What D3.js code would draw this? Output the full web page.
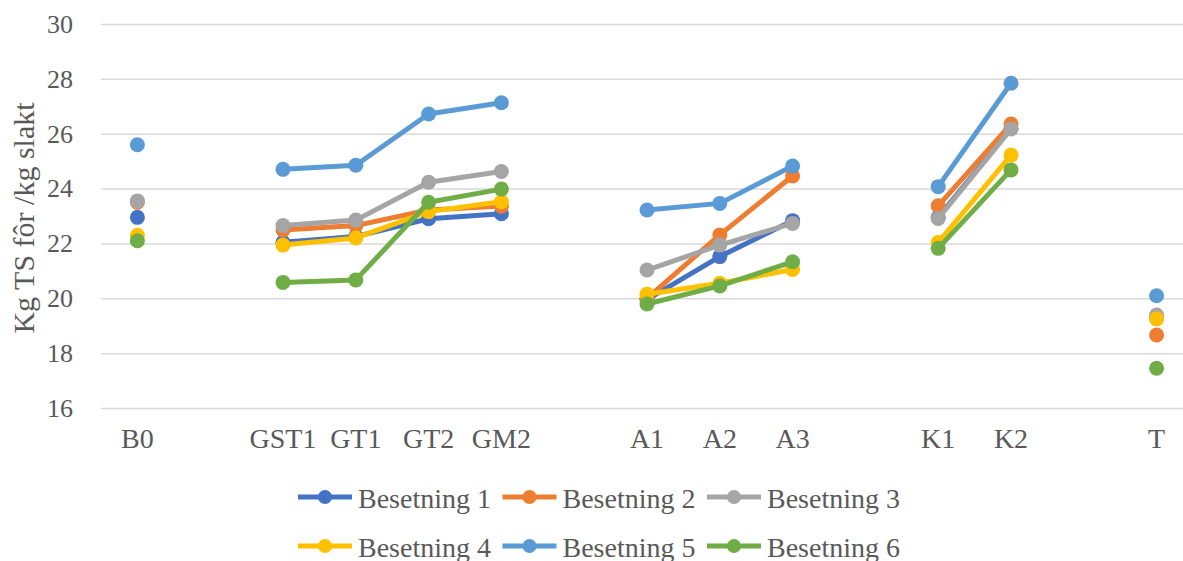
<!DOCTYPE html>
<html>
<head>
<meta charset="utf-8">
<script src="https://cdn.jsdelivr.net/npm/d3@7/dist/d3.min.js"></script>
<style>
  html, body { margin: 0; padding: 0; background: #fff; }
  svg { display: block; font-family: "Liberation Serif", "Times New Roman", serif; }
</style>
</head>
<body>
<svg id="chart" width="1183" height="561"></svg>
<script>
// Category slots; empty strings are spacer slots between groups
const categories = ["B0", "", "GST1", "GT1", "GT2", "GM2", "", "A1", "A2", "A3", "", "K1", "K2", "", "T"];

const seriesNames = ["Besetning 1", "Besetning 2", "Besetning 3", "Besetning 4", "Besetning 5", "Besetning 6"];

const besetning1 = [22.95, null, 22.04, 22.25, 22.90, 23.08, null, 19.95, 21.52, 22.83, null, 22.95, 26.20, null, 19.30];
const besetning2 = [23.50, null, 22.49, 22.65, 23.22, 23.36, null, 20.00, 22.31, 24.46, null, 23.37, 26.35, null, 18.66];
const besetning3 = [23.55, null, 22.65, 22.85, 24.23, 24.62, null, 21.03, 21.94, 22.73, null, 22.91, 26.17, null, 19.39];
const besetning4 = [22.30, null, 21.94, 22.20, 23.16, 23.52, null, 20.15, 20.55, 21.05, null, 22.03, 25.22, null, 19.25];
const besetning5 = [25.60, null, 24.70, 24.85, 26.72, 27.13, null, 23.22, 23.46, 24.82, null, 24.07, 27.84, null, 20.09];
const besetning6 = [22.10, null, 20.58, 20.67, 23.50, 23.98, null, 19.79, 20.45, 21.33, null, 21.82, 24.68, null, 17.45];

const seriesValues = [besetning1, besetning2, besetning3, besetning4, besetning5, besetning6];
const colors = ["#4472C4", "#ED7D31", "#A5A5A5", "#FFC000", "#5B9BD5", "#70AD47"];

const yTicks = [16, 18, 20, 22, 24, 26, 28, 30];
const yTitle = "Kg TS fôr /kg slakt";

const svg = d3.select("#chart");
const plot = { left: 101, right: 1193, top: 24, bottom: 408 };

const x = d3.scaleBand()
  .domain(d3.range(categories.length))
  .range([plot.left, plot.right]);
const cx = i => x(i) + x.bandwidth() / 2;

const y = d3.scaleLinear().domain([16, 30]).range([plot.bottom, plot.top]);

const textColor = "#595959";

// Horizontal gridlines
const yAxis = d3.axisLeft(y)
  .tickValues(yTicks)
  .tickSize(-(plot.right - plot.left))
  .tickPadding(28)
  .tickFormat(d3.format("d"));

const gy = svg.append("g")
  .attr("transform", `translate(${plot.left},0)`)
  .call(yAxis);
gy.select(".domain").remove();
gy.selectAll(".tick line").attr("stroke", "#d9d9d9").attr("stroke-width", 1.5);
gy.selectAll(".tick text")
  .attr("fill", textColor)
  .attr("font-size", 26)
  .attr("font-family", "Liberation Serif, serif");

// Category axis labels
const xAxis = d3.axisBottom(x)
  .tickSize(0)
  .tickPadding(20)
  .tickFormat(i => categories[i]);
const gx = svg.append("g")
  .attr("transform", `translate(0,${plot.bottom})`)
  .call(xAxis);
gx.select(".domain").remove();
gx.selectAll(".tick text")
  .attr("fill", textColor)
  .attr("font-size", 28)
  .attr("font-family", "Liberation Serif, serif");

// Y axis title
svg.append("text")
  .attr("transform", `translate(34,${(plot.top + plot.bottom) / 2 + 2}) rotate(-90)`)
  .attr("text-anchor", "middle")
  .attr("fill", textColor)
  .attr("font-size", 30)
  .text(yTitle);

// Series lines and markers
const line = d3.line()
  .defined(d => d.v != null)
  .x(d => cx(d.i))
  .y(d => y(d.v));

seriesValues.forEach((vals, s) => {
  const pts = vals.map((v, i) => ({ i, v }));
  const g = svg.append("g");
  g.append("path")
    .datum(pts)
    .attr("fill", "none")
    .attr("stroke", colors[s])
    .attr("stroke-width", 5)
    .attr("stroke-linejoin", "round")
    .attr("d", line);
  g.selectAll("circle")
    .data(pts.filter(d => d.v != null))
    .join("circle")
    .attr("cx", d => cx(d.i))
    .attr("cy", d => y(d.v))
    .attr("r", 7.5)
    .attr("fill", colors[s]);
});

// Legend: two rows of three
const legend = svg.append("g");
const itemW = 204.5, legendX = 298, rowY = [497, 546];
seriesNames.forEach((name, s) => {
  const col = s % 3, row = Math.floor(s / 3);
  const gx0 = legendX + col * itemW;
  const g = legend.append("g").attr("transform", `translate(${gx0},${rowY[row]})`);
  g.append("line")
    .attr("x1", 0).attr("x2", 54)
    .attr("stroke", colors[s]).attr("stroke-width", 5);
  g.append("circle").attr("cx", 27).attr("r", 7).attr("fill", colors[s]);
  g.append("text")
    .attr("x", 60).attr("y", 11)
    .attr("fill", textColor)
    .attr("font-size", 28)
    .text(name);
});
</script>
</body>
</html>
